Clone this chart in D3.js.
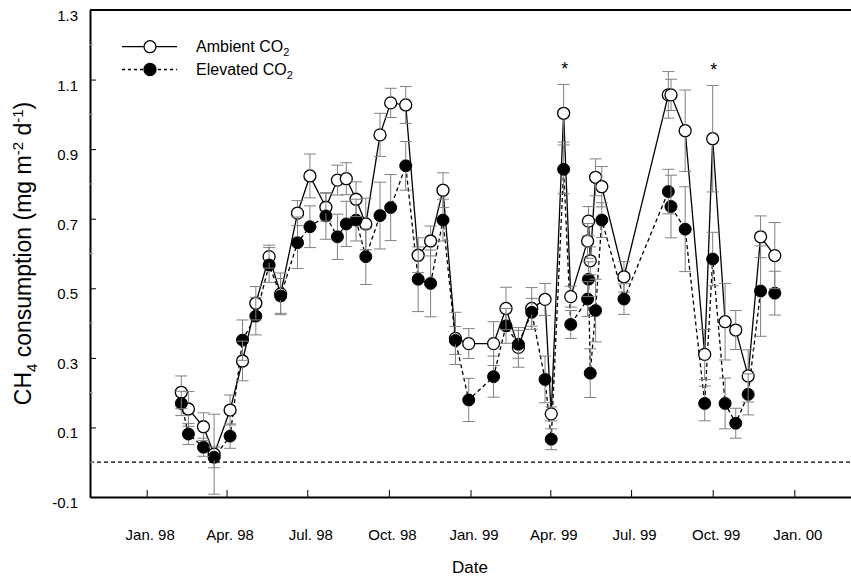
<!DOCTYPE html>
<html>
<head>
<meta charset="utf-8">
<script src="https://cdn.jsdelivr.net/npm/d3@7"></script>
<style>
body { margin: 0; background: #fff; }
svg text { font-family: Arial, "Liberation Sans", sans-serif; fill: #000; }
</style>
</head>
<body>
<svg id="chart" width="851" height="582"></svg>
<script>
// sampling dates and CH4 consumption (mg m-2 d-1)
const dates = ["1998-02-09","1998-02-17","1998-03-06","1998-03-18","1998-04-05","1998-04-19","1998-05-04","1998-05-19",
  "1998-06-01","1998-06-20","1998-07-04","1998-07-22","1998-08-04","1998-08-14","1998-08-25","1998-09-05",
  "1998-09-21","1998-10-03","1998-10-20","1998-11-03","1998-11-17","1998-12-01","1998-12-15","1998-12-30",
  "1999-01-27","1999-02-10","1999-02-24","1999-03-11","1999-03-26","1999-04-02","1999-04-16","1999-04-24",
  "1999-05-13","1999-05-14","1999-05-16","1999-05-22","1999-05-29","1999-06-23","1999-08-12","1999-08-15",
  "1999-08-31","1999-09-22","1999-10-01","1999-10-15","1999-10-27","1999-11-10","1999-11-24","1999-12-10"];

const ambient = [0.201,0.153,0.102,0.023,0.150,0.291,0.457,0.591,0.484,0.716,0.823,0.733,0.811,0.815,0.756,0.685,
  0.941,1.033,1.027,0.595,0.636,0.782,0.356,0.341,0.341,0.442,0.330,0.442,0.468,0.139,1.003,0.476,
  0.636,0.693,0.579,0.819,0.792,0.533,1.056,1.056,0.953,0.310,0.930,0.404,0.380,0.248,0.648,0.594];

const elevated = [0.169,0.081,0.043,0.014,0.075,0.351,0.420,0.567,0.478,0.631,0.677,0.708,0.648,0.685,0.696,0.591,
  0.709,0.732,0.852,0.526,0.514,0.696,0.350,0.179,0.246,0.392,0.339,0.431,0.238,0.066,0.842,0.396,
  0.469,0.526,0.256,0.436,0.696,0.469,0.778,0.735,0.670,0.169,0.584,0.169,0.112,0.195,0.492,0.486];

const ambientErr = [0.047,0.05,0.04,0.115,0.043,0.057,0.048,0.033,0.06,0.036,0.063,0.04,0.043,0.046,0.05,0.074,
  0.062,0.042,0.053,0.05,0.043,0.05,0.075,0.043,0.063,0.061,0.057,0.06,0.046,0.02,0.083,0.03,
  0.05,0.042,0.04,0.053,0.058,0.044,0.067,0.045,0.117,0.072,0.153,0.11,0.056,0.075,0.06,0.095];

const elevatedErr = [0.035,0.03,0.026,0.03,0.035,0.058,0.054,0.05,0.05,0.074,0.06,0.067,0.065,0.065,0.06,0.08,
  0.096,0.095,0.07,0.093,0.096,0.06,0.04,0.062,0.059,0.05,0.04,0.04,0.067,0.03,0.07,0.04,
  0.05,0.05,0.07,0.09,0.05,0.044,0.064,0.09,0.122,0.05,0.077,0.073,0.043,0.059,0.13,0.063];

const tickDates = ["1998-01-01","1998-04-01","1998-07-01","1998-10-01","1999-01-01","1999-04-01","1999-07-01","1999-10-01","2000-01-01"];
const tickLabels = ["Jan. 98","Apr. 98","Jul. 98","Oct. 98","Jan. 99","Apr. 99","Jul. 99","Oct. 99","Jan. 00"];
const yTicks = [-0.1, 0.1, 0.3, 0.5, 0.7, 0.9, 1.1, 1.3];
const yMinorTicks = [0, 0.2, 0.4, 0.6, 0.8, 1.0, 1.2];
const starDates = ["1999-04-16", "1999-10-01"];

chart = {

	init: function(){
		const me = chart;
		const parse = d3.utcParse("%Y-%m-%d");

		me.svg = d3.select("#chart");
		me.left = 90; me.right = 851; me.top = 10; me.bottom = 497;

		me.x = d3.scaleUtc()
		  .domain([parse("1998-01-01"), parse("2000-01-01")])
		  .range([146.7, 794.3]);
		// stretch the domain so the axis spans the whole frame
		me.x.domain([me.x.invert(me.left), me.x.invert(me.right)]).range([me.left, me.right]);

		me.y = d3.scaleLinear().domain([-0.1, 1.3]).range([me.bottom, me.top]);

		me.rows = dates.map(function(d, i){
			return {date: parse(d), a: ambient[i], e: elevated[i], ae: ambientErr[i], ee: elevatedErr[i]};
		});

		me.axes(parse);
		me.series();
		me.legend();
	},

	axes: function(parse){
		const me = chart;
		const svg = me.svg;

		// zero reference line
		svg.append("line")
		  .attr("x1", me.left).attr("x2", me.right)
		  .attr("y1", me.y(0)).attr("y2", me.y(0))
		  .attr("stroke", "#000").attr("stroke-width", 1.2)
		  .attr("stroke-dasharray", "4,3");

		const xAxis = svg.append("g")
		  .attr("transform", "translate(0," + me.bottom + ")")
		  .call(d3.axisBottom(me.x)
			.tickValues(tickDates.map(parse))
			.tickFormat(function(d, i){ return tickLabels[i]; })
			.tickSizeInner(-7).tickSizeOuter(0).tickPadding(32));
		xAxis.select(".domain").attr("stroke-width", 2);
		xAxis.selectAll("text").attr("font-size", 15).attr("dx", 3).attr("font-family", null);

		const yAxis = svg.append("g")
		  .attr("transform", "translate(" + me.left + ",0)")
		  .call(d3.axisLeft(me.y)
			.tickValues(yTicks)
			.tickFormat(function(d){ return d.toFixed(1); })
			.tickSizeInner(-6).tickSizeOuter(0).tickPadding(12));
		yAxis.select(".domain").attr("stroke-width", 2);
		yAxis.selectAll("text").attr("font-size", 15).attr("dy", "0.7em").attr("font-family", null);

		svg.selectAll(".minor")
		  .data(yMinorTicks)
		  .enter().append("line")
		  .attr("x1", me.left).attr("x2", me.left + 3)
		  .attr("y1", me.y).attr("y2", me.y)
		  .attr("stroke", "#aaa");

		// top frame line
		svg.append("line")
		  .attr("x1", me.left).attr("x2", me.right)
		  .attr("y1", me.top).attr("y2", me.top)
		  .attr("stroke", "#000").attr("stroke-width", 2);

		const yt = svg.append("text")
		  .attr("transform", "translate(31," + ((me.top + me.bottom) / 2) + ") rotate(-90)")
		  .attr("text-anchor", "middle")
		  .attr("font-size", 23);
		yt.append("tspan").text("CH");
		yt.append("tspan").text("4").attr("font-size", 15).attr("dy", 6);
		yt.append("tspan").text(" consumption (mg m").attr("dy", -6);
		yt.append("tspan").text("-2").attr("font-size", 15).attr("dy", -8);
		yt.append("tspan").text(" d").attr("dy", 8);
		yt.append("tspan").text("-1").attr("font-size", 15).attr("dy", -8);
		yt.append("tspan").text(")").attr("dy", 8);

		svg.append("text")
		  .attr("x", 470).attr("y", 573)
		  .attr("text-anchor", "middle")
		  .attr("font-size", 17)
		  .text("Date");
	},

	series: function(){
		const me = chart;
		const svg = me.svg;
		const x = me.x, y = me.y, r = 6;

		const lineA = d3.line().x(function(d){ return x(d.date); }).y(function(d){ return y(d.a); });
		const lineE = d3.line().x(function(d){ return x(d.date); }).y(function(d){ return y(d.e); });

		svg.append("path").datum(me.rows)
		  .attr("d", lineE).attr("fill", "none")
		  .attr("stroke", "#000").attr("stroke-width", 1.3)
		  .attr("stroke-dasharray", "4,3");
		svg.append("path").datum(me.rows)
		  .attr("d", lineA).attr("fill", "none")
		  .attr("stroke", "#000").attr("stroke-width", 1.3);

		svg.selectAll(".amb").data(me.rows).enter().append("circle")
		  .attr("cx", function(d){ return x(d.date); })
		  .attr("cy", function(d){ return y(d.a); })
		  .attr("r", r).attr("fill", "#fff").attr("stroke", "#000").attr("stroke-width", 1.3);
		svg.selectAll(".elv").data(me.rows).enter().append("circle")
		  .attr("cx", function(d){ return x(d.date); })
		  .attr("cy", function(d){ return y(d.e); })
		  .attr("r", r).attr("fill", "#000").attr("stroke", "#000").attr("stroke-width", 1);

		// error bars, stems kept outside the markers
		const bars = [];
		me.rows.forEach(function(d){
			bars.push({date: d.date, v: d.a, err: d.ae});
			bars.push({date: d.date, v: d.e, err: d.ee});
		});
		const g = svg.append("g").attr("stroke", "#808080").attr("stroke-width", 1);
		bars.forEach(function(b){
			const cx = x(b.date), cy = y(b.v);
			const hi = y(b.v + b.err), lo = y(b.v - b.err);
			if (cy - hi > r) g.append("line").attr("x1", cx).attr("x2", cx).attr("y1", hi).attr("y2", cy - r);
			if (lo - cy > r) g.append("line").attr("x1", cx).attr("x2", cx).attr("y1", cy + r).attr("y2", lo);
			g.append("line").attr("x1", cx - 6).attr("x2", cx + 6).attr("y1", hi).attr("y2", hi);
			g.append("line").attr("x1", cx - 6).attr("x2", cx + 6).attr("y1", lo).attr("y2", lo);
		});

		// significance marks
		const parse = d3.utcParse("%Y-%m-%d");
		starDates.forEach(function(s){
			const row = me.rows.find(function(d){ return +d.date === +parse(s); });
			svg.append("text")
			  .attr("x", x(row.date) + 1)
			  .attr("y", y(row.a + row.ae) - 9)
			  .attr("text-anchor", "middle")
			  .attr("font-size", 18)
			  .text("*");
		});
	},

	legend: function(){
		const me = chart;
		const g = me.svg.append("g");
		const items = [
			{label: "Ambient CO", y: 46.7, fill: "#fff", dash: null},
			{label: "Elevated CO", y: 69.5, fill: "#000", dash: "3,3"}
		];
		items.forEach(function(it){
			g.append("line")
			  .attr("x1", 122).attr("x2", 177).attr("y1", it.y).attr("y2", it.y)
			  .attr("stroke", "#000").attr("stroke-width", 1.3)
			  .attr("stroke-dasharray", it.dash);
			g.append("circle")
			  .attr("cx", 150).attr("cy", it.y).attr("r", 6)
			  .attr("fill", it.fill).attr("stroke", "#000").attr("stroke-width", 1.3);
			const t = g.append("text")
			  .attr("x", 196).attr("y", it.y + 5.5)
			  .attr("font-size", 16);
			t.append("tspan").text(it.label);
			t.append("tspan").text("2").attr("font-size", 11).attr("dy", 4);
		});
	}
}

chart.init();
</script>
</body>
</html>
